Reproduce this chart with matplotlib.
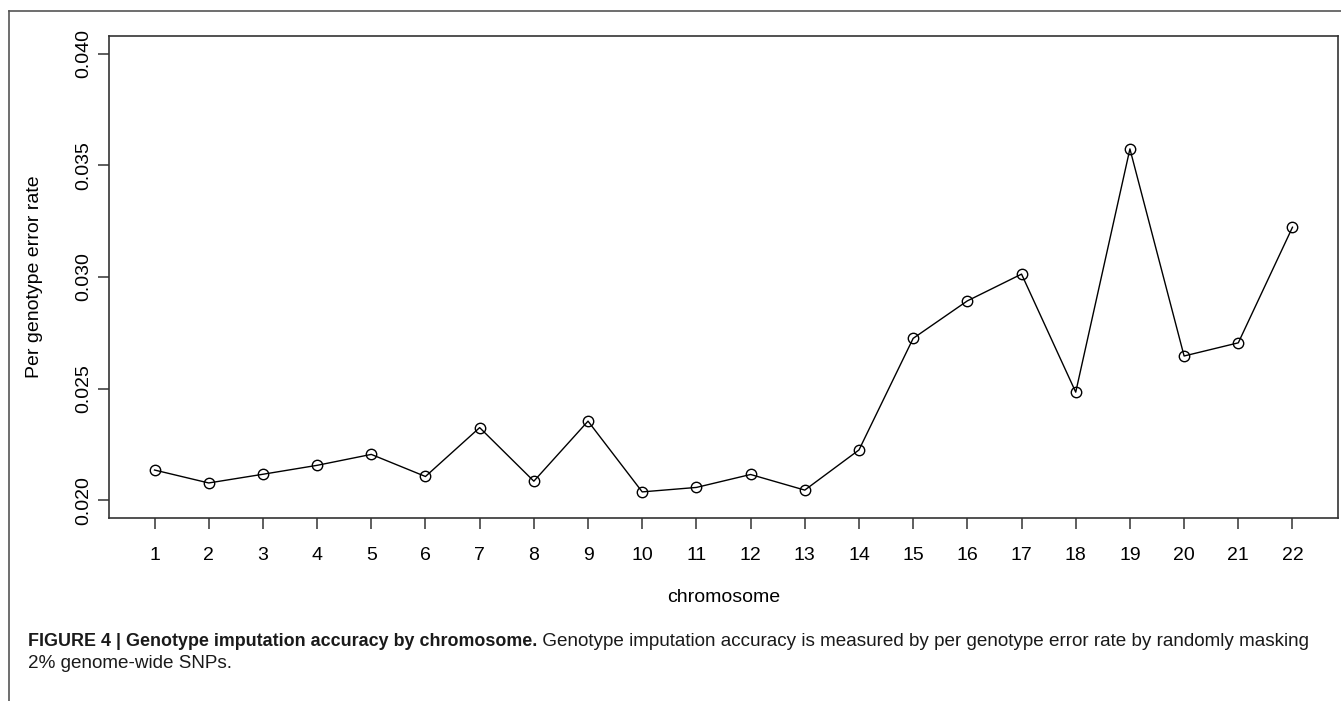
import matplotlib
matplotlib.use("Agg")
import matplotlib.pyplot as plt
from matplotlib.lines import Line2D

chromosomes = list(range(1, 23))
error_rate = [0.02135, 0.02077, 0.02116, 0.02156, 0.02205, 0.02106, 0.02325,
              0.02085, 0.02354, 0.02037, 0.02057, 0.02115, 0.02045, 0.02225,
              0.02725, 0.02893, 0.03013, 0.02484, 0.03574, 0.02646, 0.02705,
              0.03223]
y_ticks = [0.020, 0.025, 0.030, 0.035, 0.040]
y_tick_labels = ["0.020", "0.025", "0.030", "0.035", "0.040"]

W, H = 1341, 701
fig = plt.figure(figsize=(W / 100, H / 100), dpi=100)
plt.rcParams['font.family'] = ['Liberation Sans', 'DejaVu Sans']

def px(x, y):
    return x / W, 1 - y / H

l, r, t, b = 109, 1338, 36, 518
ax = fig.add_axes([l / W, 1 - b / H, (r - l) / W, (b - t) / H])
ax.plot(chromosomes, error_rate, color='black', lw=1.0, marker='o',
        markersize=7.5, markerfacecolor='none', markeredgecolor='black',
        markeredgewidth=1.0)
ax.set_xlim(0.16, 22.84)
ax.set_ylim(0.0192, 0.0408)
ax.set_xticks(chromosomes)
ax.set_xticklabels([str(c) for c in chromosomes], fontsize=14)
ax.set_yticks(y_ticks)
ax.set_yticklabels(y_tick_labels, fontsize=14, rotation=90, va='center')
for s in ax.spines.values():
    s.set_color('#333333')
    s.set_linewidth(1.2)
ax.tick_params(axis='both', direction='out', length=8, width=1.1,
               color='#333333')
ax.tick_params(axis='x', pad=13)
ax.tick_params(axis='y', pad=4)

fig.text(*px(723.5, 598), "chromosome", fontsize=14, ha='center', va='center')
fig.text(*px(35, 277), "Per genotype error rate", fontsize=14, ha='center',
         va='center', rotation=90)

# outer panel border (top and left)
fig.add_artist(Line2D([9 / W, 1.0], [1 - 11 / H, 1 - 11 / H], color='#555555',
                      lw=1.2, transform=fig.transFigure))
fig.add_artist(Line2D([9 / W, 9 / W], [1 - 11 / H, 0.0], color='#555555',
                      lw=1.2, transform=fig.transFigure))

cap_font = ['Liberation Sans Narrow', 'Liberation Sans', 'DejaVu Sans']
bold_txt = "FIGURE 4 | Genotype imputation accuracy by chromosome."
reg_txt = (" Genotype imputation accuracy is measured by per genotype error "
           "rate by randomly masking")
t1 = fig.text(*px(28, 642), bold_txt, fontsize=12.9, fontweight='bold',
              family=cap_font, va='center', ha='left', color='#1a1a1a')
fig.canvas.draw()
rend = fig.canvas.get_renderer()
bb = t1.get_window_extent(rend)
fig.text(bb.x1 / W, 1 - 642 / H, reg_txt, fontsize=13.6, family=cap_font,
         va='center', ha='left', color='#1a1a1a')
fig.text(*px(28, 664), "2% genome-wide SNPs.", fontsize=13.6, family=cap_font,
         va='center', ha='left', color='#1a1a1a')

fig.savefig("out.png", dpi=100)
